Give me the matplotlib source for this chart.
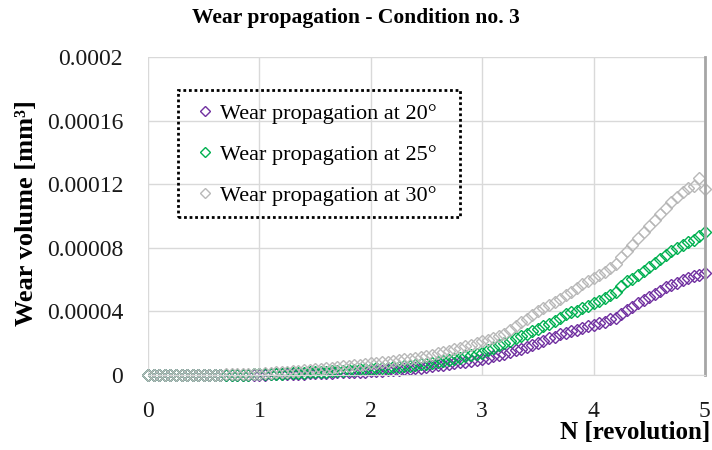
import numpy as np
import matplotlib
matplotlib.use('Agg')
import matplotlib.pyplot as plt
from matplotlib.patches import Rectangle

# revolutions, step 0.05 from 0 to 5
n_rev = [round(0.05 * i, 2) for i in range(101)]

# wear volume in 1e-6 mm^3
wear_20 = [0, 0, 0, 0, 0, 0, 0, 0, 0, 0,
           0, 0, 0, 0, 0, 0, 0, 0.1, 0.1, 0.1,
           0.2, 0.2, 0.3, 0.3, 0.4, 0.5, 0.6, 0.7, 0.8, 0.9,
           1.0, 1.1, 1.2, 1.3, 1.5, 1.6, 1.7, 1.9, 2.0, 2.1,
           2.3, 2.4, 2.6, 2.8, 3.0, 3.3, 3.6, 3.9, 4.2, 4.6,
           5.0, 5.4, 5.9, 6.4, 6.9, 7.4, 7.9, 8.4, 9.0, 9.5,
           10, 10.8, 11.6, 12.5, 13.4, 14.4, 15.5, 16.5, 17.5, 18.8,
           20, 21.5, 23, 24, 25.5, 26.5, 27.5, 28.5, 29.5, 30.5,
           31.5, 32.5, 33.5, 35, 36, 38.5, 41, 43, 45, 47,
           49, 51, 53, 55, 56.5, 58, 59.5, 61, 62, 63,
           64]
wear_25 = [0, 0, 0, 0, 0, 0, 0, 0, 0, 0,
           0, 0, 0, 0, 0, 0.1, 0.1, 0.2, 0.2, 0.3,
           0.3, 0.4, 0.5, 0.6, 0.8, 0.9, 1.0, 1.2, 1.4, 1.6,
           1.7, 1.9, 2.1, 2.3, 2.5, 2.7, 3.0, 3.2, 3.4, 3.6,
           3.8, 4.0, 4.3, 4.5, 4.8, 5.1, 5.5, 5.8, 6.2, 6.6,
           7.0, 7.5, 8.0, 8.6, 9.3, 10, 10.8, 11.6, 12.5, 13.3,
           14, 15.5, 17, 18.5, 20, 21.5, 23, 24.5, 26, 27.5,
           29, 30.5, 32, 34, 36, 38, 39.5, 40.5, 42, 43.5,
           45, 46.5, 48.5, 50, 52, 56, 59, 60.5, 63, 65.5,
           68, 70.5, 73, 75.5, 78, 80, 82, 83.5, 85, 87.5,
           90]
wear_30 = [0, 0, 0, 0, 0, 0, 0, 0, 0.1, 0.1,
           0.1, 0.1, 0.2, 0.2, 0.3, 0.3, 0.4, 0.5, 0.6, 0.7,
           0.8, 1.0, 1.3, 1.5, 1.8, 2.1, 2.4, 2.7, 3.0, 3.3,
           3.6, 3.9, 4.2, 4.5, 4.9, 5.3, 5.6, 6.0, 6.4, 6.8,
           7.2, 7.6, 8.0, 8.4, 8.8, 9.2, 9.7, 10.1, 10.6, 11.2,
           11.9, 12.7, 13.5, 14.4, 15.3, 16.2, 17.0, 18.0, 19.0, 20.0,
           21, 22, 23.3, 24.6, 26, 28, 30.5, 33, 35, 37.5,
           40, 42, 44, 46, 48, 50, 52, 54.5, 57, 59,
           61, 63, 65, 67.5, 70, 74, 78, 82, 86, 90,
           94, 97.5, 101, 105, 109, 112, 115, 117.5, 119, 124,
           117]

series = [
    ('Wear propagation at 20\u00b0', wear_20, '#7030A0'),
    ('Wear propagation at 25\u00b0', wear_25, '#00B050'),
    ('Wear propagation at 30\u00b0', wear_30, '#B8B8B8'),
]

plt.rcParams['font.family'] = ['Liberation Serif', 'DejaVu Serif']

fig = plt.figure(figsize=(7.12, 4.5), dpi=100)
ax = fig.add_axes([0.208, 0.167, 0.782, 0.706])

for label, vals, col in series:
    ax.plot(n_rev, np.array(vals) * 1e-6, linestyle='none', marker='D',
            markersize=6.5, markerfacecolor='none', markeredgecolor=col,
            markeredgewidth=1.0, label=label, clip_on=False)

ax.set_xlim(0, 5)
ax.set_ylim(0, 0.0002)
ax.set_xticks([0, 1, 2, 3, 4, 5])
ax.set_yticks([0, 0.00004, 0.00008, 0.00012, 0.00016, 0.0002])
ax.set_yticklabels(['0', '0.00004', '0.00008', '0.00012', '0.00016', '0.0002'])
ax.tick_params(length=0, labelsize=17, colors='#1a1a1a')
ax.tick_params(axis='y', pad=18)
ax.tick_params(axis='x', pad=19)
ax.grid(True, color='#D9D9D9', linewidth=1)
ax.set_axisbelow(True)
for side in ['top', 'left']:
    ax.spines[side].set_visible(False)
ax.spines['bottom'].set_color('#D9D9D9')
ax.spines['right'].set_color('#A6A6A6')
ax.spines['right'].set_linewidth(2)

# legend without frame, dotted box drawn separately
leg = ax.legend(loc='upper left', bbox_to_anchor=(0.083, 0.855), fontsize=16,
                frameon=False, handletextpad=0.15, handlelength=1.0,
                labelspacing=0.92, borderpad=0, borderaxespad=0, markerscale=0.8)
ax.add_patch(Rectangle((0.0536, 0.497), 0.506, 0.399, transform=ax.transAxes,
                       fill=False, edgecolor='black', linewidth=2,
                       linestyle=(0, (1, 1)), zorder=5))

fig.text(0.5, 0.96, 'Wear propagation - Condition no. 3', ha='center',
         va='center', fontsize=15.5, fontweight='bold')
fig.text(0.037, 0.527, 'Wear volume [mm\u00b3]', rotation=90, ha='center',
         va='center', fontsize=19, fontweight='bold')
fig.text(0.997, 0.04, 'N [revolution]', ha='right', va='center',
         fontsize=18, fontweight='bold')

fig.savefig('out.png', dpi=100)
